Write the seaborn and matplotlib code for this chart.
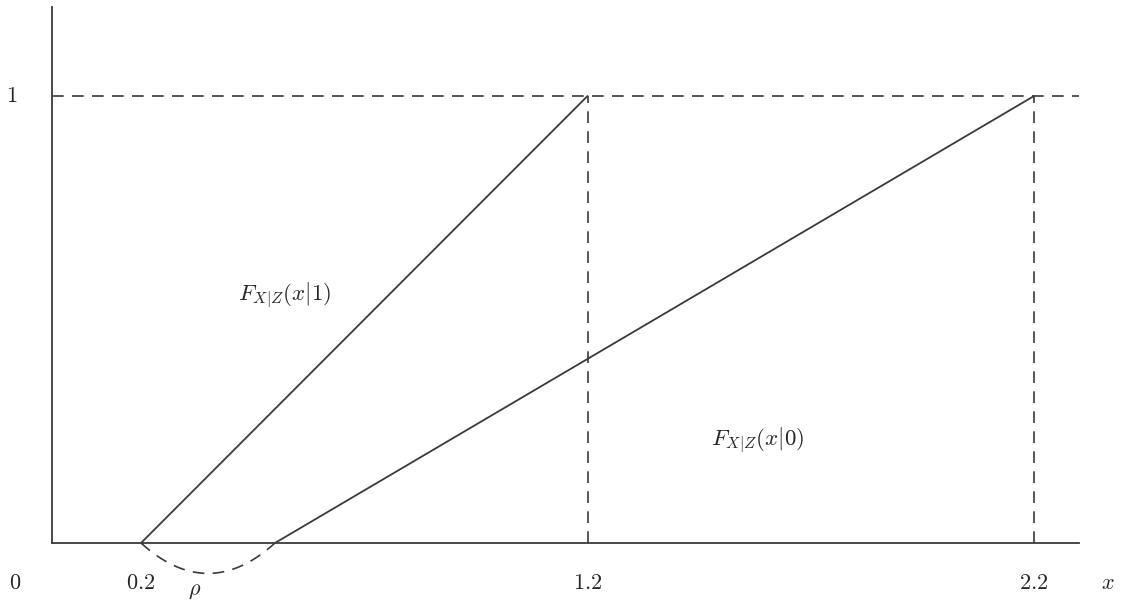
import numpy as np
import pandas as pd
import seaborn as sns
import matplotlib.pyplot as plt

# CDF endpoints
x_z1 = [0.2, 1.2]
x_z0 = [0.5, 2.2]
cdf_vals = [0.0, 1.0]
tick_pos = [0.2, 1.2, 2.2]
tick_labels = ["$0.2$", "$1.2$", "$2.2$"]
rho_depth = 0.068

sns.set_style("white")
plt.rcParams["mathtext.fontset"] = "cm"
plt.rcParams["font.family"] = ["DejaVu Serif"]

ink = "#3a3a3a"

fig = plt.figure(figsize=(11.21, 6.07), dpi=100)
ax = fig.add_axes([51.7 / 1121, 64 / 607, 1027 / 1121, 536.4 / 607])

df = pd.DataFrame({
    "x": x_z1 + x_z0,
    "F": cdf_vals + cdf_vals,
    "z": ["1", "1", "0", "0"],
})
sns.lineplot(data=df, x="x", y="F", units="z", estimator=None,
             color=ink, linewidth=1.3, ax=ax, legend=False)

# dashed guides
dash = dict(color=ink, linewidth=1.2, linestyle=(0, (7, 5)))
ax.plot([0, 2.3], [1, 1], **dash)
ax.plot([x_z1[1], x_z1[1]], [0, 1], **dash)
ax.plot([x_z0[1], x_z0[1]], [0, 1], **dash)

# the rho arc between the two starting points (shallow bowl)
c = (x_z1[0] + x_z0[0]) / 2
r = (x_z0[0] - x_z1[0]) / 2
u = np.linspace(-1, 1, 60)
ax.plot(c + r * u, -rho_depth * (1 - u ** 2), clip_on=False, **dash)

ax.set_xlim(0, 2.3)
ax.set_ylim(0, 1.2)
ax.set_xticks([])
ax.set_yticks([])
ax.set_xlabel("")
ax.set_ylabel("")
for s in ["top", "right"]:
    ax.spines[s].set_visible(False)
for s in ["left", "bottom"]:
    ax.spines[s].set_color(ink)
    ax.spines[s].set_linewidth(1.3)

fs = 16
ty = -0.089
for p, lab in zip(tick_pos, tick_labels):
    ax.text(p, ty, lab, ha="center", va="center", fontsize=fs, clip_on=False)
ax.text(-0.083, ty, "$0$", ha="center", va="center", fontsize=fs, clip_on=False)
ax.text(-0.089, 1.0, "$1$", ha="center", va="center", fontsize=fs, clip_on=False)
ax.text(2.366, ty, "$x$", ha="center", va="center", fontsize=fs, clip_on=False)
ax.text(0.321, -0.106, r"$\rho$", ha="center", va="center", fontsize=fs, clip_on=False)

ax.text(0.522, 0.555, r"$F_{X|Z}(x|1)$", ha="center", va="center", fontsize=16.5)
ax.text(1.58, 0.23, r"$F_{X|Z}(x|0)$", ha="center", va="center", fontsize=16.5)

fig.savefig("out.png", dpi=100)
